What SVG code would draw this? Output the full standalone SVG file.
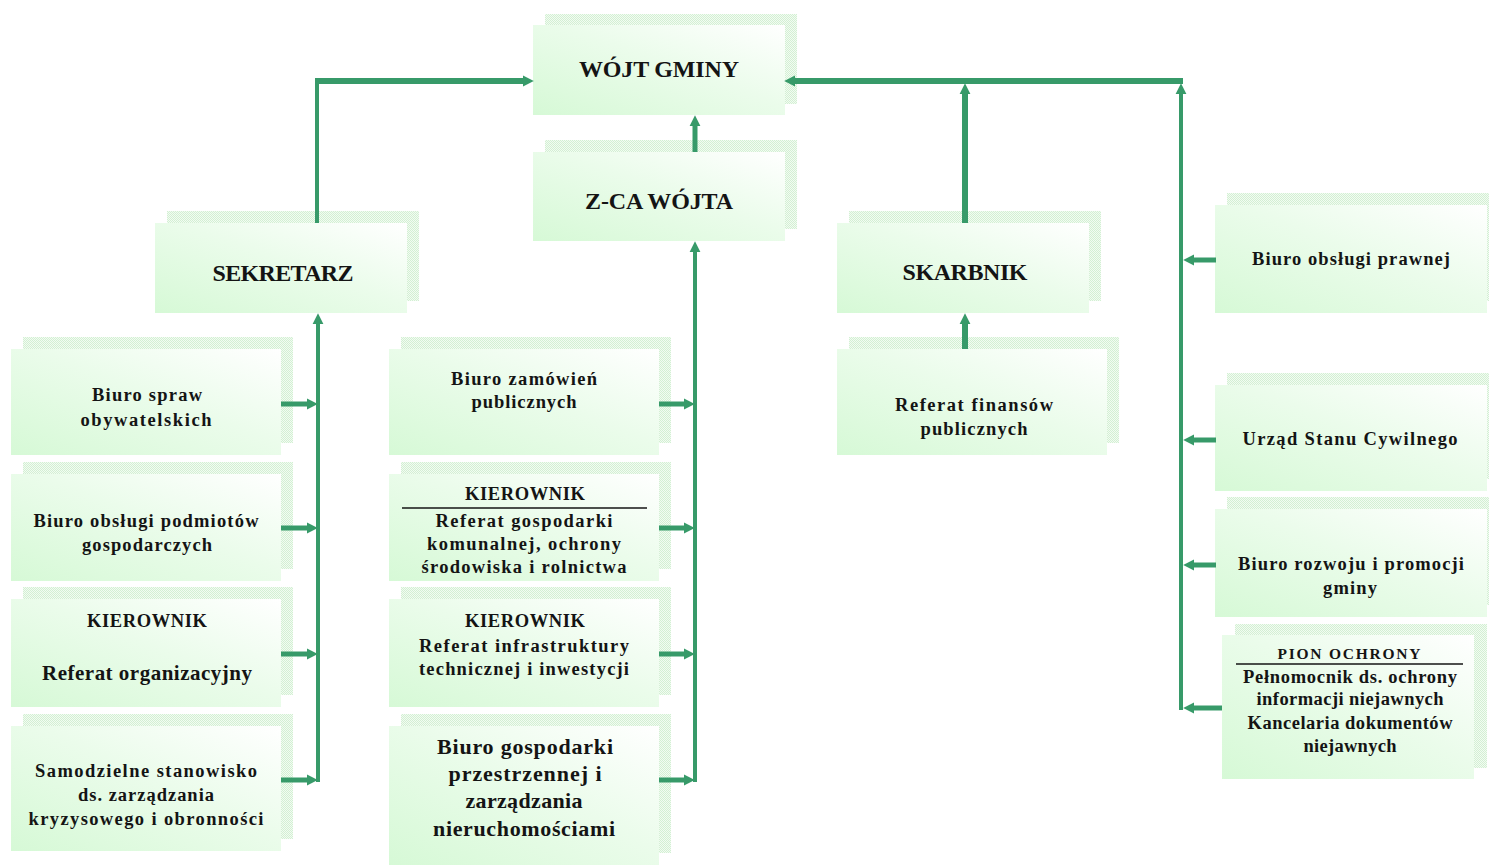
<svg xmlns="http://www.w3.org/2000/svg" width="1489" height="865" viewBox="0 0 1489 865">
<style>
text{font-family:"Liberation Serif","Times New Roman",serif;font-weight:bold;fill:#141414;text-anchor:middle}
.h{font-size:24px}
.t{font-size:18.5px}
.m{font-size:21px}
.l{font-size:22px}
.s{font-size:15.5px}
.box{fill:url(#g)}
.sh{fill:url(#dots)}
.c{stroke:#379a69;fill:none}
.ul{stroke:#141414;stroke-width:1.3}
</style>
<defs>
<linearGradient id="g" x1="0" y1="1" x2="1" y2="0">
<stop offset="0" stop-color="#d6f9d6"/>
<stop offset="0.55" stop-color="#ebfceb"/>
<stop offset="1" stop-color="#ffffff"/>
</linearGradient>
<pattern id="dots" width="2" height="2" patternUnits="userSpaceOnUse">
<rect width="2" height="2" fill="#f2fbf2"/>
<rect width="1" height="1" fill="#d3f0d3"/>
<rect x="1" y="1" width="1" height="1" fill="#d3f0d3"/>
</pattern>
<marker id="ah" viewBox="0 0 10 10" refX="2" refY="5" markerWidth="11" markerHeight="12" markerUnits="userSpaceOnUse" orient="auto">
<path d="M0,0 L10,5 L0,10 Z" fill="#379a69"/>
</marker>
</defs>
<rect width="1489" height="865" fill="#ffffff"/>

<g id="wojt">
<rect class="sh" x="545" y="14" width="252" height="90"/>
<rect class="box" x="533" y="25" width="252" height="90"/>
<text class="h" x="659" y="77" textLength="160">WÓJT GMINY</text>
</g>
<g id="zca">
<rect class="sh" x="545" y="140" width="252" height="89"/>
<rect class="box" x="533" y="152" width="252" height="89"/>
<text class="h" x="659" y="209" textLength="148">Z-CA WÓJTA</text>
</g>
<g id="sekretarz">
<rect class="sh" x="167" y="211" width="252" height="90"/>
<rect class="box" x="155" y="223" width="252" height="90"/>
<text class="h" x="283" y="281" textLength="141">SEKRETARZ</text>
</g>
<g id="skarbnik">
<rect class="sh" x="849" y="211" width="252" height="90"/>
<rect class="box" x="837" y="223" width="252" height="90"/>
<text class="h" x="965" y="280" textLength="125">SKARBNIK</text>
</g>
<g id="ref-finansow">
<rect class="sh" x="849" y="337" width="270" height="106"/>
<rect class="box" x="837" y="349" width="270" height="106"/>
<text class="t" x="974" y="411" textLength="158">Referat finansów</text>
<text class="t" x="974" y="435" textLength="107">publicznych</text>
</g>

<g id="biuro-spraw">
<rect class="sh" x="23" y="337" width="270" height="106"/>
<rect class="box" x="11" y="349" width="270" height="106"/>
<text class="t" x="147" y="401" textLength="110">Biuro spraw</text>
<text class="t" x="146" y="426" textLength="131">obywatelskich</text>
</g>
<g id="biuro-podmiotow">
<rect class="sh" x="23" y="462" width="270" height="107"/>
<rect class="box" x="11" y="474" width="270" height="107"/>
<text class="t" x="146" y="527" textLength="225">Biuro obsługi podmiotów</text>
<text class="t" x="147" y="551" textLength="130">gospodarczych</text>
</g>
<g id="ref-organizacyjny">
<rect class="sh" x="23" y="587" width="270" height="108"/>
<rect class="box" x="11" y="599" width="270" height="108"/>
<text class="t" x="147" y="627" textLength="120">KIEROWNIK</text>
<text class="m" x="147" y="680" textLength="210">Referat organizacyjny</text>
</g>
<g id="samodzielne">
<rect class="sh" x="23" y="714" width="270" height="125"/>
<rect class="box" x="11" y="726" width="270" height="125"/>
<text class="t" x="146" y="777" textLength="222">Samodzielne stanowisko</text>
<text class="t" x="146" y="801" textLength="136">ds. zarządzania</text>
<text class="t" x="146" y="825" textLength="235">kryzysowego i obronności</text>
</g>

<g id="biuro-zamowien">
<rect class="sh" x="401" y="337" width="270" height="106"/>
<rect class="box" x="389" y="349" width="270" height="106"/>
<text class="t" x="524" y="385" textLength="146">Biuro zamówień</text>
<text class="t" x="524" y="408" textLength="105">publicznych</text>
</g>
<g id="ref-gospodarki">
<rect class="sh" x="401" y="462" width="270" height="107"/>
<rect class="box" x="389" y="474" width="270" height="107"/>
<text class="t" x="525" y="500" textLength="120">KIEROWNIK</text>
<line class="ul" x1="402" y1="508" x2="647" y2="508"/>
<text class="t" x="524" y="527" textLength="177">Referat gospodarki</text>
<text class="t" x="524" y="550" textLength="194">komunalnej, ochrony</text>
<text class="t" x="524" y="573" textLength="205">środowiska i rolnictwa</text>
</g>
<g id="ref-infrastruktury">
<rect class="sh" x="401" y="587" width="270" height="108"/>
<rect class="box" x="389" y="599" width="270" height="108"/>
<text class="t" x="525" y="627" textLength="120">KIEROWNIK</text>
<text class="t" x="524" y="652" textLength="210">Referat infrastruktury</text>
<text class="t" x="524" y="675" textLength="210">technicznej i inwestycji</text>
</g>
<g id="biuro-przestrzennej">
<rect class="sh" x="401" y="714" width="270" height="139"/>
<rect class="box" x="389" y="726" width="270" height="139"/>
<text class="l" x="525" y="754" textLength="176">Biuro gospodarki</text>
<text class="l" x="525" y="781" textLength="153">przestrzennej i</text>
<text class="l" x="524" y="808" textLength="117">zarządzania</text>
<text class="l" x="524" y="836" textLength="182">nieruchomościami</text>
</g>

<g id="biuro-prawnej">
<rect class="sh" x="1227" y="193" width="272" height="108"/>
<rect class="box" x="1215" y="205" width="272" height="108"/>
<text class="t" x="1351" y="265" textLength="198">Biuro obsługi prawnej</text>
</g>
<g id="usc">
<rect class="sh" x="1227" y="373" width="272" height="106"/>
<rect class="box" x="1215" y="385" width="272" height="106"/>
<text class="t" x="1350" y="445" textLength="215">Urząd Stanu Cywilnego</text>
</g>
<g id="biuro-rozwoju">
<rect class="sh" x="1227" y="497" width="272" height="108"/>
<rect class="box" x="1215" y="509" width="272" height="108"/>
<text class="t" x="1351" y="570" textLength="226">Biuro rozwoju i promocji</text>
<text class="t" x="1350" y="594" textLength="54">gminy</text>
</g>
<g id="pion-ochrony">
<rect class="sh" x="1235" y="624" width="252" height="144"/>
<rect class="box" x="1222" y="635" width="252" height="144"/>
<text class="s" x="1349" y="659" textLength="143">PION OCHRONY</text>
<line class="ul" x1="1236" y1="664" x2="1463" y2="664"/>
<text class="t" x="1350" y="683" textLength="214">Pełnomocnik ds. ochrony</text>
<text class="t" x="1350" y="705" textLength="187">informacji niejawnych</text>
<text class="t" x="1350" y="729" textLength="205">Kancelaria dokumentów</text>
<text class="t" x="1350" y="752" textLength="93">niejawnych</text>
</g>

<g id="connectors">
<path class="c" stroke-width="4" d="M317,223 V81"/>
<path class="c" stroke-width="6" d="M315,81 H525" marker-end="url(#ah)"/>
<path class="c" stroke-width="6" d="M1183,81 H793" marker-end="url(#ah)"/>
<path class="c" stroke-width="6" d="M965,223 V92" marker-end="url(#ah)"/>
<path class="c" stroke-width="4" d="M1181,710 V92" marker-end="url(#ah)"/>
<path class="c" stroke-width="5" d="M695,152 V124" marker-end="url(#ah)"/>
<path class="c" stroke-width="6" d="M965,349 V322" marker-end="url(#ah)"/>
<path class="c" stroke-width="4" d="M318,782 V322" marker-end="url(#ah)"/>
<path class="c" stroke-width="5" d="M281,404 H309" marker-end="url(#ah)"/>
<path class="c" stroke-width="5" d="M281,528 H309" marker-end="url(#ah)"/>
<path class="c" stroke-width="5" d="M281,654 H309" marker-end="url(#ah)"/>
<path class="c" stroke-width="5" d="M281,780 H309" marker-end="url(#ah)"/>
<path class="c" stroke-width="4" d="M695,782 V250" marker-end="url(#ah)"/>
<path class="c" stroke-width="5" d="M659,404 H686" marker-end="url(#ah)"/>
<path class="c" stroke-width="5" d="M659,528 H686" marker-end="url(#ah)"/>
<path class="c" stroke-width="5" d="M659,654 H686" marker-end="url(#ah)"/>
<path class="c" stroke-width="5" d="M659,780 H686" marker-end="url(#ah)"/>
<path class="c" stroke-width="5" d="M1216,260 H1192" marker-end="url(#ah)"/>
<path class="c" stroke-width="5" d="M1216,440 H1192" marker-end="url(#ah)"/>
<path class="c" stroke-width="5" d="M1216,565 H1192" marker-end="url(#ah)"/>
<path class="c" stroke-width="5" d="M1222,708 H1192" marker-end="url(#ah)"/>
</g>
</svg>
